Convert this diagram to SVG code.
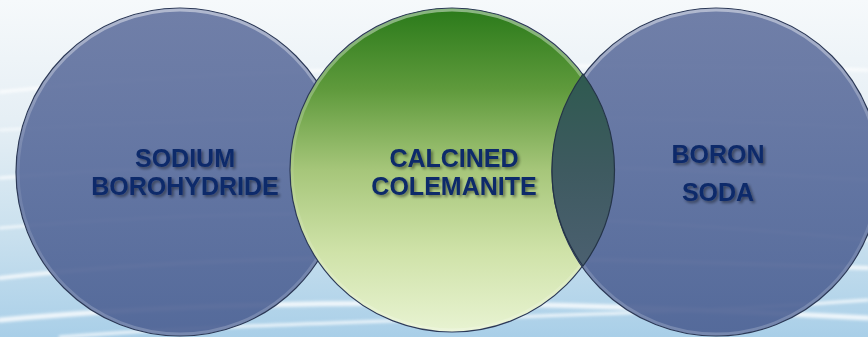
<svg xmlns="http://www.w3.org/2000/svg" width="868" height="337" viewBox="0 0 868 337">
<defs>
<linearGradient id="bg" x1="0" y1="0" x2="0" y2="1">
<stop offset="0" stop-color="#f6f9fb"/>
<stop offset="0.35" stop-color="#e6eff5"/>
<stop offset="0.7" stop-color="#c9e0ee"/>
<stop offset="1" stop-color="#a9cfe8"/>
</linearGradient>
<linearGradient id="blue" x1="0" y1="0" x2="0" y2="1">
<stop offset="0" stop-color="#62729f"/>
<stop offset="0.5" stop-color="#56699a"/>
<stop offset="1" stop-color="#4b5f92"/>
</linearGradient>
<linearGradient id="green" x1="0" y1="0" x2="0" y2="1">
<stop offset="0" stop-color="#2a7a1a"/>
<stop offset="0.25" stop-color="#5f9a3c"/>
<stop offset="0.5" stop-color="#a6c67a"/>
<stop offset="0.75" stop-color="#cfe2a8"/>
<stop offset="1" stop-color="#e8f3d2"/>
</linearGradient>
<linearGradient id="lens" x1="0" y1="0" x2="0" y2="1">
<stop offset="0" stop-color="#2f5a50"/>
<stop offset="0.5" stop-color="#3e5a60"/>
<stop offset="1" stop-color="#4b6070"/>
</linearGradient>
<linearGradient id="rim" x1="0" y1="0" x2="0" y2="1">
<stop offset="0" stop-color="#ffffff" stop-opacity="0.45"/>
<stop offset="0.5" stop-color="#ffffff" stop-opacity="0.08"/>
<stop offset="1" stop-color="#ffffff" stop-opacity="0.2"/>
</linearGradient>
<filter id="blur" x="-5%" y="-50%" width="110%" height="200%"><feGaussianBlur stdDeviation="1.5"/></filter>
<filter id="tshadow" x="-10%" y="-30%" width="120%" height="160%">
<feGaussianBlur in="SourceAlpha" stdDeviation="1.5"/>
<feOffset dx="1.5" dy="2" result="o"/>
<feComponentTransfer><feFuncA type="linear" slope="0.45"/></feComponentTransfer>
<feMerge><feMergeNode/><feMergeNode in="SourceGraphic"/></feMerge>
</filter>
</defs>
<style>
.streak{fill:none;stroke:#ffffff;stroke-linecap:round}
.circ{stroke:#2b3856;stroke-width:1.2}
.rim{fill:none;stroke:url(#rim);stroke-width:3}
.lbl{font-family:"Liberation Sans",Arial,sans-serif;font-weight:bold;font-size:25px;fill:#0e2a6a;text-anchor:middle}
</style>
<rect width="868" height="337" fill="url(#bg)"/>
<g id="background-streaks" filter="url(#blur)" opacity="0.8">
<path class="streak" stroke-width="3" d="M0,92 C200,70 500,60 868,70"/>
<path class="streak" stroke-width="2" d="M0,130 C250,115 560,110 868,128"/>
<path class="streak" stroke-width="3" d="M0,178 C220,160 520,158 868,180"/>
<path class="streak" stroke-width="2.5" d="M0,228 C260,205 560,210 868,240"/>
<path class="streak" stroke-width="4" d="M0,278 C240,250 520,255 868,268"/>
<path class="streak" stroke-width="5" d="M0,320 C260,296 540,300 868,318"/>
<path class="streak" stroke-width="3" d="M60,337 C300,318 600,320 868,300"/>
</g>
<g id="node-sodium-borohydride">
<circle class="circ" cx="180" cy="172" r="164" fill="url(#blue)" fill-opacity="0.9"/>
<circle class="rim" cx="180" cy="172" r="162"/>
<text class="lbl" filter="url(#tshadow)" x="185" y="167">SODIUM</text>
<text class="lbl" filter="url(#tshadow)" x="185" y="195">BOROHYDRIDE</text>
</g>
<g id="node-calcined-colemanite">
<circle class="circ" cx="452" cy="170" r="162" fill="url(#green)" stroke="#5a6a3a"/>
<circle class="rim" cx="452" cy="170" r="160"/>
<text class="lbl" filter="url(#tshadow)" x="454" y="167">CALCINED</text>
<text class="lbl" filter="url(#tshadow)" x="454" y="195">COLEMANITE</text>
</g>
<g id="node-boron-soda">
<circle class="circ" cx="716" cy="172" r="164" fill="url(#blue)" fill-opacity="0.9"/>
<circle class="rim" cx="716" cy="172" r="162"/>
<path d="M583,74 A162,162 0 0 1 583,266 A164,164 0 0 1 583,74 Z" fill="url(#lens)" stroke="#243447" stroke-width="1.2"/>
<text class="lbl" filter="url(#tshadow)" x="718" y="163">BORON</text>
<text class="lbl" filter="url(#tshadow)" x="718" y="201">SODA</text>
</g>
<g id="connectors"/>
</svg>
